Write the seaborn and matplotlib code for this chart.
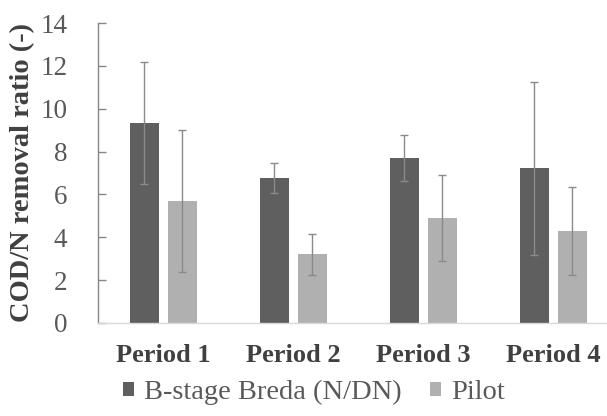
import matplotlib
matplotlib.use("Agg")
import matplotlib.pyplot as plt
import seaborn as sns
import pandas as pd
from matplotlib.patches import Patch
from matplotlib.font_manager import FontProperties

periods = ["Period 1", "Period 2", "Period 3", "Period 4"]
series_names = ["B-stage Breda (N/DN)", "Pilot"]
breda_vals = [9.32, 6.75, 7.71, 7.22]
breda_err = [2.85, 0.70, 1.07, 4.05]
pilot_vals = [5.69, 3.20, 4.91, 4.29]
pilot_err = [3.30, 0.95, 2.00, 2.06]
y_ticks = [0, 2, 4, 6, 8, 10, 12, 14]

colors = ["#5f5f5f", "#b0b0b0"]
SERIF = "Liberation Serif"

df = pd.DataFrame({
    "period": periods * 2,
    "series": [series_names[0]] * 4 + [series_names[1]] * 4,
    "value": breda_vals + pilot_vals,
    "err": breda_err + pilot_err,
})

sns.set_style("white")
plt.rcParams["font.family"] = SERIF

fig = plt.figure(figsize=(6.07, 4.16), dpi=100)
ax = fig.add_axes([0.1614, 0.2236, 1.019 - 0.1614, 0.9447 - 0.2236])

sns.barplot(data=df, x="period", y="value", hue="series", order=periods,
            hue_order=series_names, palette=colors, width=0.584, gap=0.236,
            errorbar=None, legend=False, ax=ax, saturation=1, linewidth=0)

for container, errs in zip(ax.containers, [breda_err, pilot_err]):
    xs = [p.get_x() + p.get_width() / 2 for p in container]
    hs = [p.get_height() for p in container]
    ax.errorbar(xs, hs, yerr=errs, fmt="none", ecolor="#8a8a8a",
                elinewidth=1.0, capsize=3, capthick=1.0)

ax.set_xlim(-0.5, 3.5)
ax.set_ylim(0, 14)
ax.set_yticks(y_ticks)
ax.set_yticklabels([str(t) for t in y_ticks])
ax.set_xticks(range(len(periods)))
ax.set_xticklabels(periods)
ax.set_xlabel("")

ax.tick_params(axis="y", direction="in", length=6, width=1, color="#868686",
               pad=22, left=True, labelsize=19.5, labelcolor="#595959",
               labelfontfamily=SERIF)
ax.tick_params(axis="x", length=0, pad=15, labelsize=19,
               labelcolor="#404040", labelfontfamily=SERIF)
for lbl in ax.get_xticklabels():
    lbl.set_fontweight("bold")

ax.set_ylabel("COD/N removal ratio (-)",
              fontproperties=FontProperties(family=SERIF, size=20.5, weight="bold"),
              color="#404040", labelpad=4)

for s in ["top", "right"]:
    ax.spines[s].set_visible(False)
ax.spines["left"].set_color("#868686")
ax.spines["left"].set_linewidth(1)
ax.spines["bottom"].set_color("#d9d9d9")
ax.spines["bottom"].set_linewidth(1)

handles = [Patch(facecolor=c, edgecolor="none") for c in colors]
fig.legend(handles, series_names, loc="center", bbox_to_anchor=(0.517, 0.056),
           ncol=2, frameon=False, prop=FontProperties(family=SERIF, size=20.5),
           labelcolor="#595959", handlelength=0.4, handleheight=0.4,
           handletextpad=0.35, columnspacing=1.0)

fig.savefig("out.png", dpi=100)
